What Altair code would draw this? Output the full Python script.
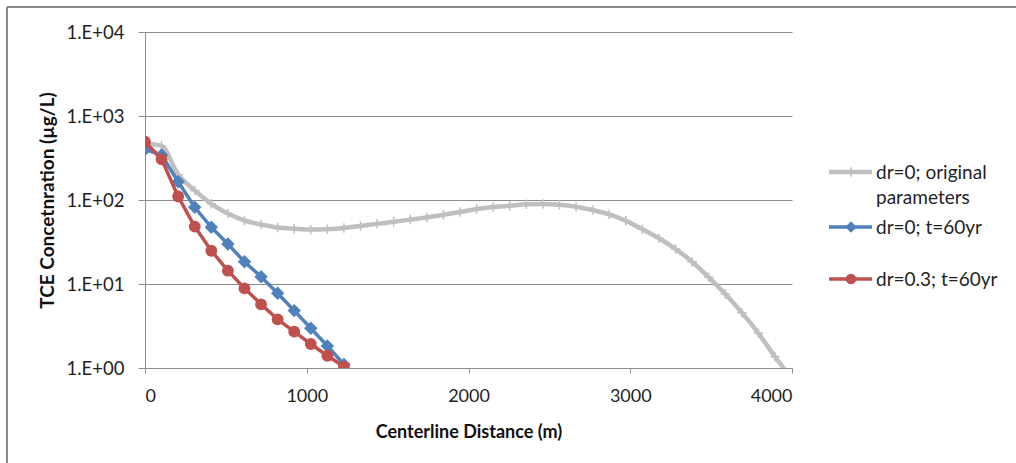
import altair as alt
import pandas as pd

# ---------------- data ----------------
distance = [0, 102.5, 205, 307.5, 410, 512.5, 615, 717.5, 820, 922.5,
            1025, 1127.5, 1230, 1332.5, 1435, 1537.5, 1640, 1742.5, 1845, 1947.5,
            2050, 2152.5, 2255, 2357.5, 2460, 2562.5, 2665, 2767.5, 2870, 2972.5,
            3075, 3177.5, 3280, 3382.5, 3485, 3587.5, 3690, 3792.5, 3895, 3997.5]

gray_vals = [470, 440, 200, 130, 90, 69, 57, 51, 47, 45.5,
             44.5, 45, 46.5, 49, 52, 55, 58.5, 62, 66.8, 71.9,
             78, 82.6, 85.5, 88.9, 89.6, 87.9, 83.2, 76, 67.6, 56.7,
             44.8, 35, 26.1, 18.4, 12, 7.6, 4.56, 2.59, 1.36, 0.75]

blue_vals = [400, 343, 165, 82, 47.3, 29.9, 18.4, 12.2, 7.75, 4.82, 2.97, 1.83, 1.1]

red_vals = [494, 305, 110, 48.2, 24.9, 14.4, 8.88, 5.73, 3.79, 2.71, 1.93, 1.40, 1.04]

series_names = ["dr=0; original parameters", "dr=0; t=60yr", "dr=0.3; t=60yr"]
legend_lines = [["dr=0; original", "parameters"], ["dr=0; t=60yr"], ["dr=0.3; t=60yr"]]
x_ticks = [0, 1000, 2000, 3000, 4000]
y_ticks = [1, 10, 100, 1000, 10000]

GRAY = "#bfbfbf"
BLUE = "#4f81bd"
RED = "#c0504d"
AXISC = "#8c8c8c"
FONT = "Lato"
TXT = "#1f1f1f"

W, H = 647, 336
LEFT, TOP = 145, 32

gray_df = pd.DataFrame({"x": distance[:len(gray_vals)], "y": gray_vals, "s": series_names[0]})
blue_df = pd.DataFrame({"x": distance[:len(blue_vals)], "y": blue_vals, "s": series_names[1]})
red_df = pd.DataFrame({"x": distance[:len(red_vals)], "y": red_vals, "s": series_names[2]})

x_enc = alt.X("x:Q",
              scale=alt.Scale(domain=[0, 4000], nice=False, zero=False),
              axis=alt.Axis(values=x_ticks, format="d", title="Centerline Distance (m)", grid=False,
                            tickSize=5, labelPadding=14, labelFontSize=18, labelFont=FONT,
                            labelColor=TXT, domainColor=AXISC, tickColor=AXISC,
                            titleFont=FONT, titleFontSize=18, titleFontWeight="bold",
                            titleColor="#111111", titleX=W / 2, titleY=64,
                            titleBaseline="middle", titleAlign="center"))
y_enc = alt.Y("y:Q",
              scale=alt.Scale(type="log", domain=[1, 10000], nice=False),
              axis=alt.Axis(values=y_ticks,
                            labelExpr="'1.E+' + format(round(log(datum.value)/LN10), '02d')",
                            title="TCE Concetnration (µg/L)", grid=True, gridColor=AXISC,
                            tickSize=7, labelPadding=14, labelFontSize=18.5, labelFont=FONT,
                            labelColor=TXT, domainColor=AXISC, tickColor=AXISC,
                            titleFont=FONT, titleFontSize=19, titleFontWeight="bold",
                            titleColor="#111111", titleX=-98, titleY=H / 2, titleAngle=-90,
                            titleBaseline="middle", titleAlign="center"))

gray_line = alt.Chart(gray_df).mark_line(color=GRAY, strokeWidth=4.5, clip=True,
                                         interpolate="monotone").encode(x=x_enc, y=y_enc)
gray_pts = alt.Chart(gray_df).mark_point(shape="M0,-1L0,1M-1,0L1,0", filled=False,
                                         color=GRAY, strokeWidth=1.5, size=90,
                                         opacity=1, clip=True).encode(x="x:Q", y="y:Q")
blue_line = alt.Chart(blue_df).mark_line(color=BLUE, strokeWidth=3.5, clip=True).encode(x="x:Q", y="y:Q")
blue_pts = alt.Chart(blue_df).mark_point(shape="diamond", filled=True, color=BLUE, size=180,
                                         opacity=1, clip=True).encode(x="x:Q", y="y:Q")
red_line = alt.Chart(red_df).mark_line(color=RED, strokeWidth=3.5, clip=True).encode(x="x:Q", y="y:Q")
red_pts = alt.Chart(red_df).mark_point(shape="circle", filled=True, color=RED, size=140,
                                       opacity=1, clip=True).encode(x="x:Q", y="y:Q")

# ---------------- manual legend ----------------
one = pd.DataFrame({"a": [0]})
LX1, LX2, LXC, LTX = 684, 727, 706, 731
row_y = [140, 195, 247]
styles = [(GRAY, "M0,-1L0,1M-1,0L1,0", 90, False, 4.5),
          (BLUE, "diamond", 130, True, 3.5),
          (RED, "circle", 110, True, 3.5)]
leg = []
for i, (col, shp, sz, fill, lw) in enumerate(styles):
    yy = row_y[i]
    leg.append(alt.Chart(one).mark_rule(color=col, strokeWidth=lw).encode(
        x=alt.value(LX1), x2=alt.value(LX2), y=alt.value(yy)))
    leg.append(alt.Chart(one).mark_point(shape=shp, filled=fill, color=col, size=sz, opacity=1,
                                         strokeWidth=1.5).encode(
        x=alt.value(LXC), y=alt.value(yy)))
    for j, line in enumerate(legend_lines[i]):
        leg.append(alt.Chart(one).mark_text(text=line, align="left", baseline="middle", font=FONT,
                                            fontSize=19, color=TXT).encode(
            x=alt.value(LTX), y=alt.value(yy + 1 + 25 * j)))

# ---------------- outer border ----------------
border = [
    alt.Chart(one).mark_rule(color="#8a8a8a", strokeWidth=2).encode(
        x=alt.value(-138), x2=alt.value(900), y=alt.value(-25)),
    alt.Chart(one).mark_rule(color="#8a8a8a", strokeWidth=2).encode(
        x=alt.value(-138), y=alt.value(-25), y2=alt.value(460)),
]

chart = alt.layer(gray_line, gray_pts, blue_line, blue_pts, red_line, red_pts, *leg, *border).properties(
    width=W, height=H,
    autosize=alt.AutoSizeParams(type="none"),
    padding={"left": LEFT, "top": TOP, "right": 1016 - LEFT - W, "bottom": 463 - TOP - H},
    background="white",
).configure_view(stroke=None)

chart.save("out.html", embed_options={"renderer": "svg", "actions": False})
